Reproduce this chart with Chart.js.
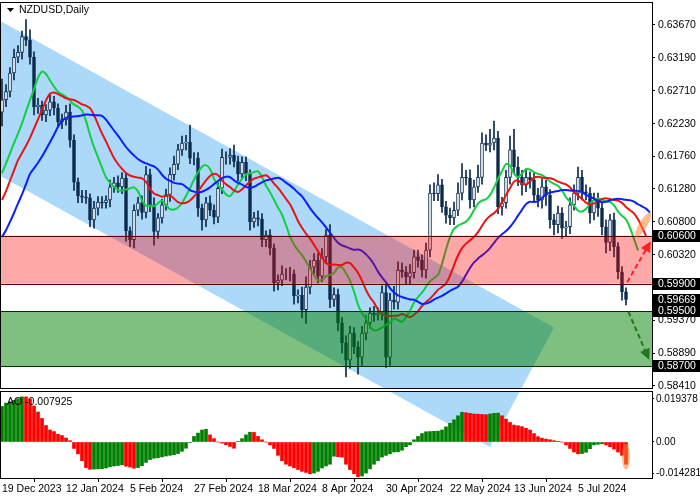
<!DOCTYPE html>
<html lang="en">
<head>
<meta charset="UTF-8">
<title>NZDUSD Daily</title>
<script src="https://cdn.jsdelivr.net/npm/chart.js@4.4.0/dist/chart.umd.min.js"></script>
<style>
  body { margin: 0; background: #fff; width: 700px; height: 500px; overflow: hidden; }
  .box { position: absolute; left: 0; width: 700px; }
</style>
</head>
<body>
<div class="box" style="top:0;height:390px"><canvas id="main" width="700" height="390"></canvas></div>
<div class="box" style="top:389px;height:111px"><canvas id="osc" width="700" height="111"></canvas></div>
<script>
// daily closes, 19 Dec 2023 .. 19 Jul 2024
const closes = [
  0.6258,0.6270,0.6297,0.6320,0.6327,0.6350,0.6345,0.6320,0.6248,0.6250,
  0.6236,0.6243,0.6255,0.6246,0.6226,0.6229,0.6240,0.6199,0.6138,0.6118,
  0.6116,0.6115,0.6083,0.6100,0.6109,0.6108,0.6112,0.6131,0.6137,0.6131,
  0.6144,0.6067,0.6054,0.6097,0.6108,0.6094,0.6149,0.6105,0.6066,0.6086,
  0.6105,0.6120,0.6149,0.6164,0.6185,0.6195,0.6196,0.6173,0.6173,0.6100,
  0.6083,0.6108,0.6097,0.6087,0.6129,0.6174,0.6174,0.6177,0.6168,0.6150,
  0.6167,0.6150,0.6080,0.6086,0.6084,0.6054,0.6061,0.6042,0.5991,0.5995,
  0.6004,0.6004,0.6004,0.5972,0.5973,0.5952,0.5985,0.6014,0.6024,0.6001,
  0.6029,0.6061,0.5967,0.5974,0.5933,0.5904,0.5879,0.5918,0.5898,0.5883,
  0.5918,0.5933,0.5947,0.5945,0.5947,0.5977,0.5883,0.5966,0.5963,0.6010,
  0.6007,0.6000,0.6006,0.6029,0.6024,0.6010,0.6039,0.6122,0.6121,0.6134,
  0.6102,0.6090,0.6086,0.6097,0.6122,0.6145,0.6144,0.6112,0.6131,0.6145,
  0.6195,0.6192,0.6195,0.6202,0.6102,0.6108,0.6145,0.6185,0.6160,0.6145,
  0.6134,0.6145,0.6141,0.6119,0.6112,0.6131,0.6119,0.6083,0.6076,0.6093,
  0.6071,0.6073,0.6105,0.6122,0.6145,0.6124,0.6122,0.6093,0.6112,0.6100,
  0.6073,0.6050,0.6083,0.6044,0.6007,0.5978,0.59669
];
const firstOpen = 0.6240;
// wick lengths above / below the body, in pips
const upWick = [
  30,10,8,12,10,8,25,15,8,10,6,8,10,8,6,8,10,12,8,6,
  8,10,6,10,8,8,6,10,8,10,8,6,6,8,8,10,12,8,10,6,
  8,8,10,12,8,10,10,25,8,8,6,8,10,8,8,12,8,10,15,8,
  8,8,6,8,10,8,6,8,6,8,12,8,10,6,8,12,15,10,10,10,
  12,8,15,10,8,8,10,10,8,8,10,10,8,10,8,10,12,10,20,12,
  10,8,12,10,10,8,10,12,15,15,8,8,10,12,15,20,10,12,10,18,
  15,12,20,25,10,8,10,20,30,15,10,12,8,10,10,12,10,8,8,10,
  8,8,10,12,15,10,10,8,10,10,8,10,8,10,6,8,6
];
const downWick = [
  20,10,8,10,8,10,8,10,12,10,8,10,8,10,8,10,8,10,12,10,
  8,8,10,12,10,8,8,10,8,8,10,15,10,12,8,10,8,10,20,10,
  8,8,10,8,8,8,10,8,10,12,15,10,8,10,8,8,10,10,8,10,
  8,10,12,8,10,10,10,10,12,10,8,8,10,12,10,12,20,10,10,10,
  8,10,12,10,12,15,25,12,10,25,12,10,8,10,8,10,15,12,10,10,
  8,10,10,8,10,10,12,10,10,10,8,12,10,10,8,10,10,12,10,8,
  10,8,10,10,10,12,8,10,10,12,15,10,12,10,10,12,15,12,15,12,
  15,12,10,8,10,12,10,15,10,12,12,15,12,15,10,12,8
];
// Awesome Oscillator, x 0.001
const aoValues = [
  16.0,17.5,18.1,18.8,19.5,20.3,20.3,
  19.4,16.2,13.5,10.6,7.4,5.4,4.7,3.5,2.9,1.8,0.6,
  -2.9,-5.3,-8.4,-11.5,-12.3,
  -12.2,-12.1,-12.0,-11.7,-11.2,-10.8,-10.6,-10.3,
  -10.9,-11.3,-11.8,-11.5,
  -10.7,-9.2,-7.9,-7.3,-7.1,-6.7,-6.3,-6.0,-5.7,
  -5.2,-4.2,-2.8,-0.3,2.5,4.0,5.4,5.7,
  3.2,1.5,0.0,-0.5,-1.2,-2.0,-2.8,
  0.3,1.5,3.2,4.4,
  4.3,2.5,1.0,0.0,-1.3,
  -2.9,-6.0,-8.4,-10.0,-10.8,-11.6,-12.4,-13.2,-13.7,-14.3,
  -14.0,-13.2,-11.7,-10.8,-10.0,-6.4,
  -6.6,-6.8,-10.0,-12.4,-14.3,-15.6,
  -15.3,-14.0,-12.1,-10.0,-8.4,-6.8,-6.0,-5.3,-4.5,-4.4,-3.7,-2.1,-1.3,
  1.0,2.5,3.8,4.6,4.7,4.8,4.9,5.4,6.8,8.4,10.0,11.8,13.4,
  13.2,12.9,12.6,12.5,12.4,12.3,
  12.6,12.9,13.0,
  11.8,10.3,8.8,7.6,7.3,6.9,6.2,5.4,3.8,2.4,1.7,1.3,
  1.0,0.6,0.3,0.0,-1.3,-2.9,-4.5,-5.3,
  -5.2,-4.6,-3.0,-1.3,-1.0,-0.8,
  -1.3,-2.1,-3.2,-4.5,-6.0,-10.0
];
// Alligator lines: values before the first candle
const jawSeed = [0.6058,0.6068,0.6080,0.6093,0.6107,0.6120,0.6135,0.6150];
const teethSeed = [0.6112,0.6125,0.6140,0.6155,0.6170];
const lipsSeed = [0.6151,0.6165,0.6180];

const priceTicks = [0.6367,0.6319,0.6271,0.6223,0.6176,0.6128,0.6080,0.6032,0.5985,0.5937,0.5889,0.5841];
const aoTicks = [0.019378, 0, -0.014281];
const aoTickText = ['0.019378', '0.00', '-0.014281'];
const dateTicks = {0:'19 Dec 2023',16:'12 Jan 2024',32:'5 Feb 2024',48:'27 Feb 2024',64:'18 Mar 2024',
  80:'8 Apr 2024',96:'30 Apr 2024',112:'22 May 2024',128:'13 Jun 2024',144:'5 Jul 2024'};

const levelsRed = [0.6060, 0.5990];
const levelsGreen = [0.5950, 0.5870];
const lastPrice = 0.59669;
// channel corners [index, price]
const channel = [[-0.75,0.6374],[138,0.5926],[122,0.5752],[-0.75,0.6148]];
const upArrow = [[156.3,0.5992],[162.2,0.6052]];
const downArrow = [[156.6,0.5949],[161.8,0.5879]];

const SLOTS = 163;
const PRICE_MIN = 0.5838, PRICE_MAX = 0.6399;
const labels = Array.from({length: SLOTS}, (_, i) => dateTicks[i] || '');

// build candles
const opens = [], highs = [], lows = [];
closes.forEach((c, i) => {
  const o = i === 0 ? firstOpen : closes[i - 1];
  opens.push(o);
  highs.push(Math.max(o, c) + (upWick[i] ?? 8) / 10000);
  lows.push(Math.min(o, c) - (downWick[i] ?? 8) / 10000);
});
const bodies = closes.map((c, i) => [opens[i], c]);
const wicks = closes.map((c, i) => [lows[i], highs[i]]);
const bodyFill = closes.map((c, i) => c >= opens[i] ? '#ffffff' : '#0b2a4c');

function smmaShifted(seed, period) {
  const out = seed.slice();
  let v = seed[seed.length - 1];
  closes.forEach((c, i) => {
    const med = (highs[i] + lows[i]) / 2;
    v = (v * (period - 1) + med) / period;
    out.push(v);
  });
  return out;
}
const jaw = smmaShifted(jawSeed, 13);
const teeth = smmaShifted(teethSeed, 8);
const lips = smmaShifted(lipsSeed, 5);

const ao = aoValues.map(v => v / 1000);
const aoColors = ao.map((v, i) => (i === 0 || v > ao[i - 1]) ? '#008000' : '#ff0000');

const font = { family: 'Liberation Sans', size: 10.5 };
const smallFont = { family: 'Liberation Sans', size: 10 };
const fontCss = '10.5px "Liberation Sans"';
Chart.defaults.font = font;
Chart.defaults.color = '#000';
Chart.defaults.animation = false;

function rightAxisFit(scale) {
  scale.width = 48;
  scale.paddingTop = 0;
  scale.paddingBottom = 0;
}

function channelPath(ctx, x, toY) {
  ctx.beginPath();
  channel.forEach(([i, p], k) => {
    const px = x.getPixelForValue(i), py = toY(p);
    k ? ctx.lineTo(px, py) : ctx.moveTo(px, py);
  });
  ctx.closePath();
}

// channel and zones in price coordinates
const overlays = {
  id: 'overlays',
  beforeDatasetsDraw(chart) {
    const { ctx, chartArea: a, scales: { x, y } } = chart;
    ctx.save();
    ctx.beginPath();
    ctx.rect(a.left, a.top, a.right - a.left, a.bottom - a.top);
    ctx.clip();
    channelPath(ctx, x, p => y.getPixelForValue(p));
    ctx.fillStyle = 'rgb(172,216,250)';
    ctx.fill();
    ctx.restore();
  },
  afterDatasetsDraw(chart) {
    const { ctx, chartArea: a, scales: { x, y } } = chart;
    ctx.save();
    const zone = (lv, fill, line) => {
      const t = y.getPixelForValue(lv[0]), b = y.getPixelForValue(lv[1]);
      ctx.fillStyle = fill;
      ctx.fillRect(a.left, t, a.right - a.left, b - t);
      ctx.strokeStyle = line;
      ctx.lineWidth = 1;
      [t, b].forEach(py => { ctx.beginPath(); ctx.moveTo(a.left, Math.round(py) + 0.5); ctx.lineTo(a.right, Math.round(py) + 0.5); ctx.stroke(); });
    };
    zone(levelsRed, 'rgba(255,0,0,0.34)', '#5a0000');
    zone(levelsGreen, 'rgba(0,128,0,0.5)', '#003000');

    // orange mark near the end of the lines
    ctx.fillStyle = 'rgba(255,130,50,0.55)';
    ctx.beginPath();
    ctx.ellipse(x.getPixelForValue(160.3), y.getPixelForValue(0.6076), 4, 14, 0.55, 0, Math.PI * 2);
    ctx.fill();

    const arrow = (pts, col) => {
      const x0 = x.getPixelForValue(pts[0][0]), y0 = y.getPixelForValue(pts[0][1]);
      const x1 = x.getPixelForValue(pts[1][0]), y1 = y.getPixelForValue(pts[1][1]);
      const ang = Math.atan2(y1 - y0, x1 - x0);
      ctx.strokeStyle = col; ctx.fillStyle = col; ctx.lineWidth = 2;
      ctx.setLineDash([5, 3]);
      ctx.beginPath(); ctx.moveTo(x0, y0);
      ctx.lineTo(x1 - 8 * Math.cos(ang), y1 - 8 * Math.sin(ang)); ctx.stroke();
      ctx.setLineDash([]);
      ctx.beginPath();
      ctx.moveTo(x1, y1);
      ctx.lineTo(x1 - 12 * Math.cos(ang - 0.45), y1 - 12 * Math.sin(ang - 0.45));
      ctx.lineTo(x1 - 12 * Math.cos(ang + 0.45), y1 - 12 * Math.sin(ang + 0.45));
      ctx.closePath(); ctx.fill();
    };
    arrow(upArrow, '#ff2020');
    arrow(downArrow, '#1f7a1f');
    ctx.restore();
  },
  afterDraw(chart) {
    const { ctx, chartArea: a, scales: { y } } = chart;
    ctx.save();
    ctx.strokeStyle = '#000';
    ctx.lineWidth = 1;
    ctx.strokeRect(a.left + 0.5, a.top - 0.5, a.right - a.left, a.bottom - a.top + 1);
    ctx.font = fontCss;
    ctx.textBaseline = 'middle';
    [...levelsRed, lastPrice, ...levelsGreen].forEach(v => {
      const py = Math.round(y.getPixelForValue(v));
      ctx.fillStyle = '#000';
      ctx.fillRect(a.right + 1, py - 6, 47, 12);
      ctx.fillStyle = '#fff';
      ctx.fillText(v.toFixed(5), a.right + 6, py);
    });
    // title
    ctx.fillStyle = '#000';
    ctx.beginPath(); ctx.moveTo(7, 8); ctx.lineTo(14, 8); ctx.lineTo(10.5, 12); ctx.closePath(); ctx.fill();
    ctx.fillText('NZDUSD,Daily', 19, 10);
    ctx.restore();
  }
};

new Chart(document.getElementById('main'), {
  type: 'bar',
  data: {
    labels: labels,
    datasets: [
      { type: 'line', data: jaw, borderColor: '#0a1eff', borderWidth: 2, pointRadius: 0, tension: 0.3, order: 1 },
      { type: 'line', data: teeth, borderColor: '#e81515', borderWidth: 2, pointRadius: 0, tension: 0.3, order: 1 },
      { type: 'line', data: lips, borderColor: '#10d040', borderWidth: 2, pointRadius: 0, tension: 0.3, order: 1 },
      { data: wicks, backgroundColor: '#0b2a4c', barThickness: 1, grouped: false, order: 3 },
      { data: bodies, backgroundColor: bodyFill, borderColor: '#0b2a4c', borderWidth: 1,
        borderSkipped: false, barThickness: 3, grouped: false, order: 2 }
    ]
  },
  options: {
    responsive: false,
    devicePixelRatio: 1,
    layout: { padding: { top: 3, bottom: 2, left: 0, right: 0 } },
    plugins: { legend: { display: false }, tooltip: { enabled: false } },
    scales: {
      x: { display: false, offset: true },
      y: {
        position: 'right', min: PRICE_MIN, max: PRICE_MAX,
        afterFit: rightAxisFit,
        afterBuildTicks: s => { s.ticks = priceTicks.map(v => ({ value: v })); },
        ticks: { padding: 3, callback: v => v.toFixed(5), font },
        grid: { drawOnChartArea: false, tickLength: 3, color: '#000' },
        border: { color: '#000' }
      }
    }
  },
  plugins: [overlays]
});

// channel piece inside the oscillator window, projected with the main price scale
const oscChannel = {
  id: 'oscChannel',
  beforeDatasetsDraw(chart) {
    const { ctx, chartArea: a, scales: { x } } = chart;
    const offset = 389; // canvas top of this window
    const pxPerPrice = 385 / (PRICE_MAX - PRICE_MIN);
    const toY = p => 3 + (PRICE_MAX - p) * pxPerPrice - offset;
    ctx.save();
    ctx.beginPath();
    ctx.rect(a.left, a.top, a.right - a.left, a.bottom - a.top);
    ctx.clip();
    channelPath(ctx, x, toY);
    ctx.fillStyle = 'rgb(172,216,250)';
    ctx.fill();
    ctx.restore();
  }
};

const oscDecor = {
  id: 'oscDecor',
  afterDraw(chart) {
    const { ctx, chartArea: a, scales: { x, y } } = chart;
    ctx.save();
    ctx.fillStyle = 'rgba(255,130,50,0.55)';
    ctx.beginPath();
    ctx.ellipse(x.getPixelForValue(ao.length - 1), y.getPixelForValue(-0.0065), 4, 13, 0, 0, Math.PI * 2);
    ctx.fill();
    ctx.strokeStyle = '#000';
    ctx.strokeRect(a.left + 0.5, a.top - 0.5, a.right - a.left, a.bottom - a.top + 1);
    ctx.fillStyle = '#000';
    ctx.font = fontCss;
    ctx.textBaseline = 'middle';
    ctx.fillText('AO -0.007925', 7, a.top + 10);
    ctx.restore();
  }
};

new Chart(document.getElementById('osc'), {
  type: 'bar',
  data: {
    labels: labels,
    datasets: [{ data: ao, backgroundColor: aoColors, barThickness: 3 }]
  },
  options: {
    responsive: false,
    devicePixelRatio: 1,
    layout: { padding: { top: 3, bottom: 0, left: 0, right: 0 } },
    plugins: { legend: { display: false }, tooltip: { enabled: false } },
    scales: {
      x: {
        offset: true,
        afterFit: s => { s.height = 22; s.paddingLeft = 0; s.paddingRight = 0; },
        ticks: { autoSkip: false, maxRotation: 0, align: 'start', padding: 1,
                 callback: (v, i) => labels[i] || null, font },
        grid: { drawOnChartArea: false, tickLength: 4, color: c => (c.tick && c.tick.label) ? '#000' : 'rgba(0,0,0,0)' },
        border: { color: '#000' }
      },
      y: {
        position: 'right', min: -0.0162, max: 0.0225,
        afterFit: rightAxisFit,
        afterBuildTicks: s => { s.ticks = aoTicks.map(v => ({ value: v })); },
        ticks: { padding: 2, callback: (v, i) => aoTickText[i], font: smallFont },
        grid: { drawOnChartArea: false, tickLength: 2, color: '#000' },
        border: { color: '#000' }
      }
    }
  },
  plugins: [oscChannel, oscDecor]
});
</script>
</body>
</html>
